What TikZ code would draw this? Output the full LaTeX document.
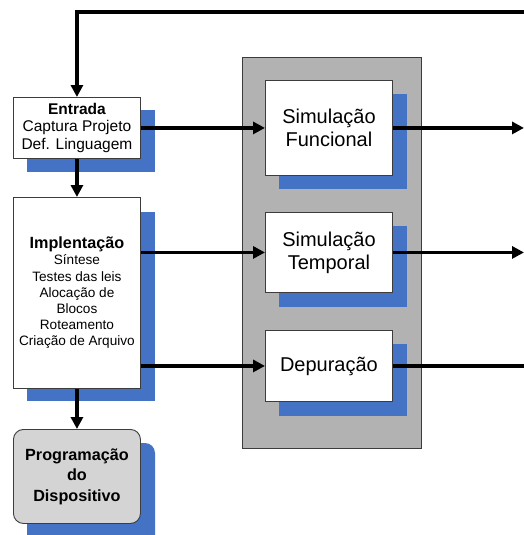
\documentclass[tikz,border=0pt]{standalone}
\usepackage{fontspec}
\setmainfont{Liberation Sans}
\usetikzlibrary{arrows.meta,positioning}
\definecolor{shadowblue}{RGB}{68,114,196}
\definecolor{panelgray}{RGB}{178,178,178}
\definecolor{proggray}{RGB}{212,212,212}
\definecolor{edgegray}{RGB}{60,60,60}
\tikzset{
  box/.style={draw=edgegray, line width=0.9pt, fill=white, anchor=north west, align=center, inner sep=0pt},
  conn/.style={line width=3.3pt, -{Triangle[length=12pt,width=12pt]}},
  plainconn/.style={line width=3.3pt},
  bigtext/.style={font=\fontsize{20}{23}\selectfont},
}
\begin{document}
\begin{tikzpicture}[x={(1pt,0)}, y={(0,-1pt)}]
\useasboundingbox (0,0) rectangle (524,535);
% panel
\node[draw=edgegray, line width=0.9pt, fill=panelgray, anchor=north west, minimum width=179pt, minimum height=391pt, inner sep=0pt] (panel) at (242,57) {};
% shadows
\fill[shadowblue] (27,110) rectangle (155,172);
\fill[shadowblue] (27,212) rectangle (155,401);
\fill[shadowblue, rounded corners=10pt] (27,443) rectangle (155,545);
\fill[shadowblue] (279,94) rectangle (407,189);
\fill[shadowblue] (279,226) rectangle (407,307);
\fill[shadowblue] (279,344) rectangle (407,416);
% left boxes
\node[box, minimum width=127pt, minimum height=61pt, font=\fontsize{15.5}{17.5}\selectfont] (entrada) at (13,97)
  {\textbf{Entrada}\\Captura Projeto\\Def. Linguagem};
\node[box, minimum width=127pt, minimum height=191pt, font=\fontsize{13.6}{16.2}\selectfont] (impl) at (13,197)
  {{\fontsize{16.2}{16.2}\selectfont\textbf{Implentação}}\\Síntese\\Testes das leis\\Alocação de\\Blocos\\Roteamento\\Criação de Arquivo};
\node[box, fill=proggray, rounded corners=10pt, minimum width=127pt, minimum height=94pt, font=\fontsize{16.2}{20.5}\selectfont\bfseries] (prog) at (13,429)
  {Programação\\do\\Dispositivo};
% right boxes
\node[box, bigtext, minimum width=127pt, minimum height=95pt] (sf) at (265,80) {Simulação\\Funcional};
\node[box, bigtext, minimum width=127pt, minimum height=80pt] (st) at (265,212) {Simulação\\Temporal};
\node[box, bigtext, minimum width=127pt, minimum height=71pt] (dep) at (265,330) {Depuração};
% edge coordinates
\coordinate (R) at (524,0);
\coordinate (top) at (524,12);
% connectors
\draw[conn] (top) -| (entrada.north);
\draw[conn] (entrada.south) -- (impl.north);
\draw[conn] (impl.south) -- (prog.north);
\draw[conn] (entrada.east) -- (sf.west);
\draw[conn] (impl.east |- st.west) -- (st.west);
\draw[conn] (impl.east |- dep.west) -- (dep.west);
\draw[conn] (sf.east) -- (sf.east -| R);
\draw[conn] (st.east) -- (st.east -| R);
\draw[plainconn] (dep.east) -- (dep.east -| R);
\end{tikzpicture}
\end{document}
